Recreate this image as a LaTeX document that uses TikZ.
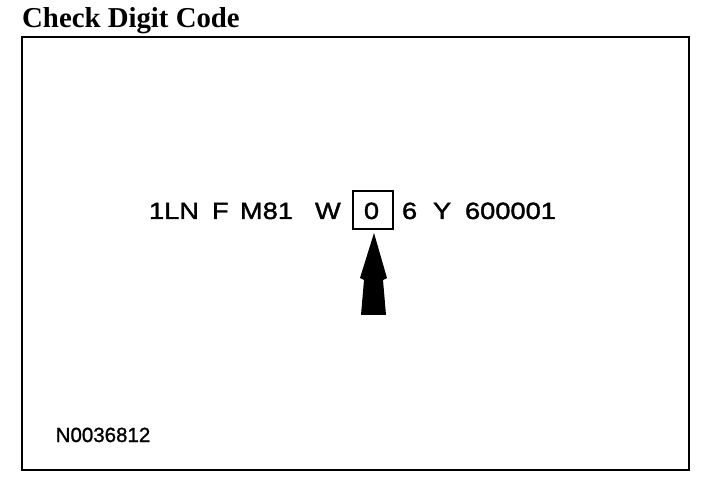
\documentclass[tikz,border=0pt]{standalone}
\usepackage{fontspec}
\setmainfont{Liberation Sans}
\newfontfamily\titlefont{Liberation Serif}
\newfontfamily\widesans[FakeStretch=1.16,FakeBold=1.6]{Liberation Sans}
\newfontfamily\codesans[FakeBold=1.2]{Liberation Sans}
\begin{document}
\begin{tikzpicture}[x=1pt,y=-1pt,
  txt/.style={inner sep=0pt,outer sep=0pt,anchor=base west,font=\widesans\fontsize{23.5}{24}\selectfont},
  digitbox/.style={draw,line width=2pt,minimum width=40pt,minimum height=38pt,inner sep=0pt},
  frameline/.style={line width=2.6pt}]
\useasboundingbox (0,0) rectangle (704,486);
\node[inner sep=0pt,anchor=base west,font=\titlefont\bfseries\fontsize{28.8}{28.8}\selectfont] (title) at (22,28) {Check Digit Code};
\draw[frameline] (22,37) rectangle (689,470);
\node[txt] (w1) at (149,219) {1LN};
\node[txt] (w2) at (212,219) {F};
\node[txt] (w3) at (240,219) {M81};
\node[txt] (w4) at (315,219) {W};
\node[digitbox] (box) at (373,210) {};
\node[txt,anchor=base] (w5) at (371.5,219) {0};
\node[txt] (w6) at (402,219) {6};
\node[txt] (w7) at (433,219) {Y};
\node[txt] (w8) at (465,219) {600001};
\coordinate (tip) at ([shift={(1,3)}]box.south);
\fill (tip) -- ++(13,45) -- ++(-4,2) -- ++(3,35) -- ++(-25,0) -- ++(3,-35) -- ++(-4,-2) -- cycle;
\node[inner sep=0pt,anchor=base west,font=\codesans\fontsize{20.5}{20.5}\selectfont] (code) at (55.5,442) {N0036812};
\end{tikzpicture}
\end{document}
